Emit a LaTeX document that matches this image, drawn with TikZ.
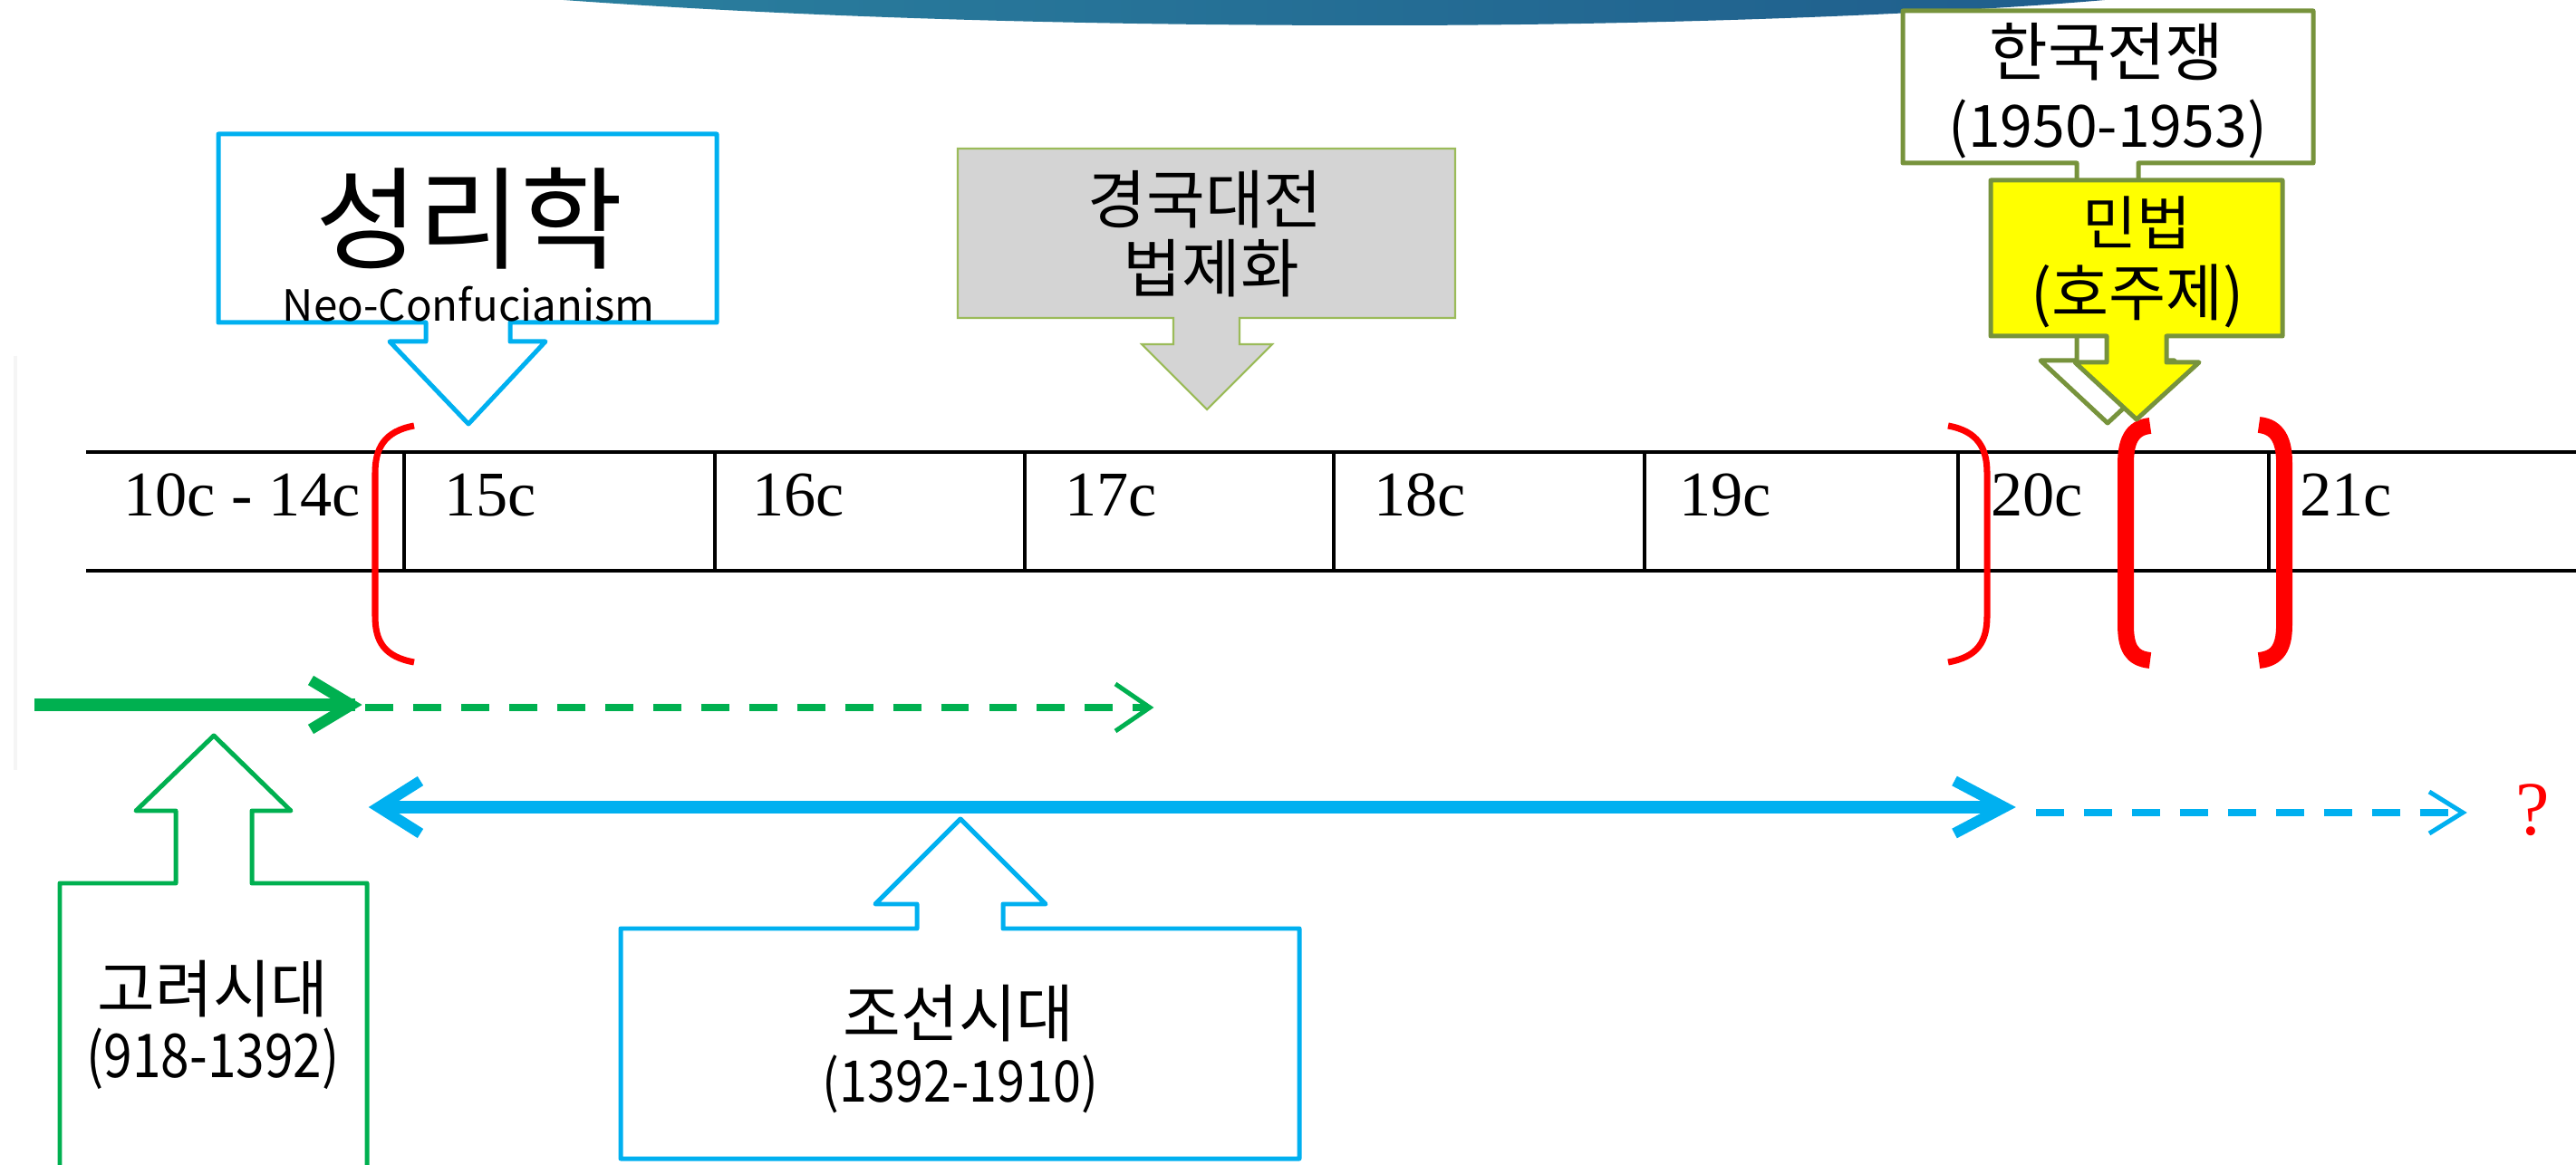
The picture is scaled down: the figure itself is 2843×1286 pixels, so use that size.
\documentclass[tikz,border=0pt]{standalone}
\usepackage{fontspec}
\setmainfont{Noto Sans CJK KR}
\newfontfamily\tms{Liberation Serif}
\usetikzlibrary{calc}
\definecolor{cblue}{HTML}{00B0F0}
\definecolor{cgreen}{HTML}{00B050}
\definecolor{colive}{HTML}{77933C}
\definecolor{clolive}{HTML}{9BBB59}
\definecolor{cgray}{HTML}{D4D4D4}
\definecolor{cyel}{HTML}{FFFF00}
\definecolor{cred}{HTML}{FF0000}
\definecolor{gradl}{HTML}{2A7F9E}
\definecolor{gradm}{HTML}{3894AD}
\definecolor{gradr}{HTML}{1F5D8C}
\newcommand\myfs[1]{\fontsize{#1pt}{#1pt}\selectfont}
\begin{document}
\begin{tikzpicture}[x=0.01cm,y=-0.01cm,
  txt/.style={inner sep=0pt,outer sep=0pt,anchor=center,text=black},
  lbl/.style={inner sep=0pt,outer sep=0pt,anchor=base west,font=\tms\myfs{20}},
  tline/.style={black,line width=1.14pt},
  vline/.style={black,line width=1pt},
  cbox/.style={line width=1.42pt,line join=round,fill=white},
  thinbr/.style={cred,line width=2pt},
  thickbr/.style={cred,line width=5.1pt,line cap=butt},
  chev/.style={line cap=butt,line join=miter},
  dashpat/.style={dash pattern=on 8.8pt off 6.26pt}]
\useasboundingbox (0,0) rectangle (2843,1286);
\fill[white] (0,0) rectangle (2843,1286);

% top gradient band
\shade[left color=gradl,middle color=gradm,right color=gradr]
  (622,0) .. controls (900,20) and (1200,28) .. (1520,28)
  .. controls (1850,28) and (2150,15) .. (2323,0) -- cycle;

% faint left line
\draw[black!4,line width=1.2pt] (17,393) -- (17,850);

% table
\draw[tline] (95,499) -- (2850,499);
\draw[tline] (95,630) -- (2850,630);
\foreach \xx in {446,789,1131,1472,1815,2161,2504}
  \draw[vline] (\xx,499) -- (\xx,630);
\node[lbl] (c10) at (136,570) {10c - 14c};
\node[lbl] (c15) at (490,570) {15c};
\node[lbl] (c16) at (830,570) {16c};
\node[lbl] (c17) at (1175,570) {17c};
\node[lbl] (c18) at (1516,570) {18c};
\node[lbl] (c19) at (1853,570) {19c};
\node[lbl] (c20) at (2197,570) {20c};
\node[lbl] (c21) at (2538,570) {21c};

% red brackets
\draw[thinbr] (457,470) .. controls (424,476) and (414,495) .. (414,522)
  -- (414,680) .. controls (414,708) and (424,725) .. (457,731);
\draw[thinbr] (2150,470) .. controls (2183,476) and (2193,495) .. (2193,522)
  -- (2193,680) .. controls (2193,708) and (2183,725) .. (2150,731);
\draw[thickbr] (2373,470) .. controls (2352,472) and (2346,488) .. (2346,512)
  -- (2346,690) .. controls (2346,714) and (2352,727) .. (2373,729);
\draw[thickbr] (2493,469) .. controls (2514,471) and (2521,487) .. (2521,511)
  -- (2521,690) .. controls (2521,714) and (2514,727) .. (2493,729);

% green arrows
\coordinate (gs) at (38,778);
\coordinate (gm) at (392,778);
\coordinate (gt) at (388,778);
\draw[cgreen,line width=3.7pt] (gs) -- (gm);
\draw[cgreen,line width=3.4pt,chev] ($(gt)+(-45,-27)$) -- (gt) -- ($(gt)+(-45,27)$);
\coordinate (gd1) at (403,781);
\coordinate (gd2) at (1264,781);
\coordinate (gdt) at (1269,781);
\draw[cgreen,line width=2.28pt,dashpat] (gd1) -- (gd2);
\draw[cgreen,line width=1.42pt,chev] ($(gdt)+(-38,-26)$) -- (gdt) -- ($(gdt)+(-38,26)$);

% blue arrows
\coordinate (bl) at (418,891);
\coordinate (br) at (2212,891);
\draw[cblue,line width=4pt] (bl) -- (br);
\draw[cblue,line width=3.4pt,chev] ($(bl)+(46,-29)$) -- (bl) -- ($(bl)+(46,29)$);
\draw[cblue,line width=3.4pt,chev] ($(br)+(-55,-29)$) -- (br) -- ($(br)+(-55,29)$);
\coordinate (bd1) at (2247,897);
\coordinate (bd2) at (2714,897);
\coordinate (bdt) at (2718,897);
\draw[cblue,line width=2.28pt,dashpat] (bd1) -- (bd2);
\draw[cblue,line width=1.42pt,chev] ($(bdt)+(-37,-23)$) -- (bdt) -- ($(bdt)+(-37,23)$);
\node[txt,font=\tms\myfs{24},text=cred] (q) at (2795,894) {?};

% Neo-Confucianism callout
\draw[cbox,draw=cblue] (241,148) -- (791,148) -- (791,356) -- (563,356) -- (563,377)
  -- (602,377) -- (517,468) -- (430,377) -- (470,377) -- (470,356) -- (241,356) -- cycle;
\node[txt] (slh) at (518,241) {\myfs{35}성리학};
\node[txt] (neo) at (517,336) {\myfs{13.5}Neo-Confucianism};

% Gyeongguk daejeon callout
\draw[fill=cgray,draw=clolive,line width=0.6pt] (1057,164) -- (1606,164) -- (1606,351)
  -- (1368,351) -- (1368,380) -- (1404,380) -- (1332,452) -- (1260,380) -- (1295,380)
  -- (1295,351) -- (1057,351) -- cycle;
\node[txt] (ggd) at (1330,220) {\myfs{20}경국대전};
\node[txt] (bjh) at (1337,296) {\myfs{20}법제화};

% Korean war callout
\draw[cbox,draw=colive] (2100,12) -- (2553,12) -- (2553,180) -- (2360,180) -- (2360,398)
  -- (2400,398) -- (2326,467) -- (2252,398) -- (2292,398) -- (2292,180) -- (2100,180) -- cycle;
\node[txt] (krw) at (2325,57) {\myfs{20}한국전쟁};
\node[txt] (krwy) at (2326,142) {\myfs{18.3}(1950-1953)};

% Civil law callout
\draw[cbox,draw=colive,fill=cyel] (2197,199) -- (2519,199) -- (2519,371) -- (2391,371)
  -- (2391,400) -- (2427,400) -- (2358,463) -- (2290,400) -- (2325,400) -- (2325,371)
  -- (2197,371) -- cycle;
\node[txt] (mb) at (2358,246) {\myfs{18.5}민법};
\node[txt] (hjj) at (2359,327) {\myfs{19.5}(호주제)};

% Goryeo callout
\draw[cbox,draw=cgreen] (66,1320) -- (66,975) -- (194,975) -- (194,895) -- (150,895)
  -- (236,812) -- (321,895) -- (278,895) -- (278,975) -- (405,975) -- (405,1320);
\node[txt] (gr) at (235,1092) {\myfs{19.7}고려시대};
\node[txt] (gry) at (235,1169) {\scalebox{0.85}[1]{\myfs{19}(918-1392)}};

% Joseon callout
\draw[cbox,draw=cblue] (685,1025) -- (1012,1025) -- (1012,998) -- (966,998) -- (1060,904)
  -- (1154,998) -- (1107,998) -- (1107,1025) -- (1434,1025) -- (1434,1279) -- (685,1279) -- cycle;
\node[txt] (js) at (1058,1119) {\myfs{19.7}조선시대};
\node[txt] (jsy) at (1060,1197) {\scalebox{0.88}[1]{\myfs{18}(1392-1910)}};
\end{tikzpicture}
\end{document}
